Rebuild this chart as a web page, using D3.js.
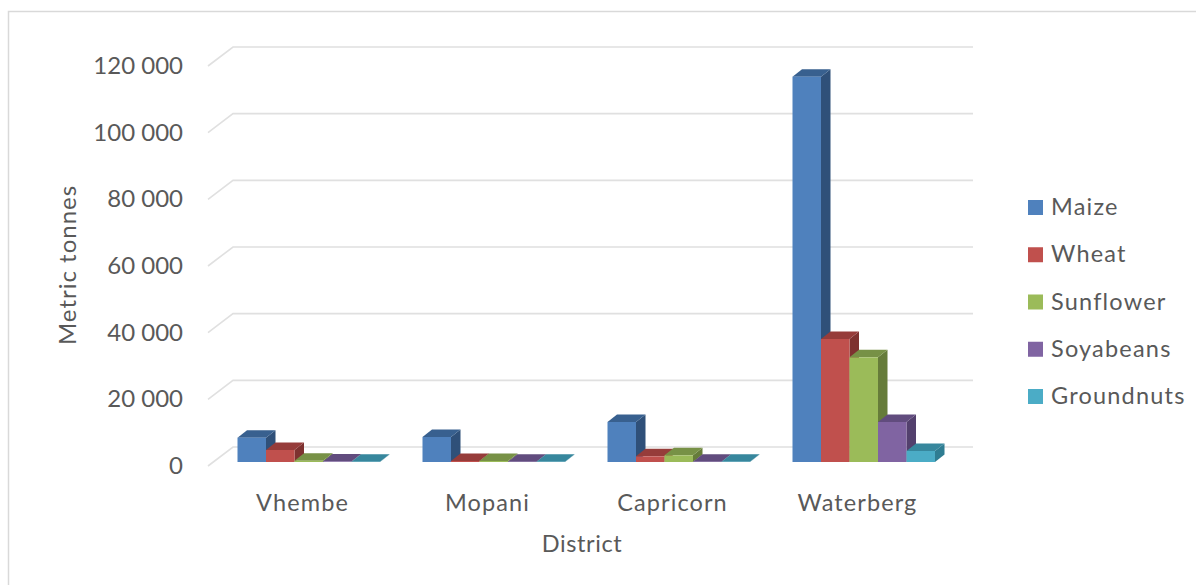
<!DOCTYPE html>
<html>
<head>
<meta charset="utf-8">
<script src="https://cdn.jsdelivr.net/npm/d3@7/dist/d3.min.js"></script>
<style>
  html, body { margin: 0; padding: 0; background: #fff; }
  svg { display: block; }
  text { font-family: Lato, "Open Sans", sans-serif; fill: #595959; }
</style>
</head>
<body>
<svg id="chart" width="1196" height="585"></svg>
<script>
// Crop production per district, in metric tonnes
const districts = ["Vhembe", "Mopani", "Capricorn", "Waterberg"];
const crops = ["Maize", "Wheat", "Sunflower", "Soyabeans", "Groundnuts"];
const maize = [7300, 7500, 12000, 115600];
const wheat = [3600, 300, 1700, 36900];
const sunflower = [400, 300, 2000, 31400];
const soyabeans = [150, 100, 100, 12000];
const groundnuts = [50, 50, 50, 3300];
const yTicks = [0, 20000, 40000, 60000, 80000, 100000, 120000];

const seriesValues = [maize, wheat, sunflower, soyabeans, groundnuts];
const faceColors = ["#4f81bd", "#c0504d", "#9bbb59", "#8064a2", "#4bacc6"];
const sideColors = ["#2f5079", "#7e3230", "#667c3a", "#53406d", "#2f7d92"];
const topColors = ["#38608f", "#963c3a", "#779146", "#614c7e", "#37879d"];

const svg = d3.select("#chart");
const fmt = d3.formatLocale({ decimal: ".", thousands: " ", grouping: [3], currency: ["", ""] }).format(",d");

// Oblique projection used for the 3D look
const depthX = 9.5, depthY = 7.5;
const wallX = 25, wallY = 19;

// y gives the bar-front height; tick labels and the wall sit on the same scale
const y = d3.scaleLinear().domain([0, 120000]).range([462, 62]);
const x = d3.scaleBand().domain(districts).range([191.5, 931.5]).paddingInner(0).paddingOuter(0);
const xSeries = d3.scaleBand().domain(crops).range([46, 188.5]);

// Chart frame: only the top and left edges fall inside the page
svg.append("path").attr("d", "M8.5,585V11.5H1196")
  .attr("fill", "none").attr("stroke", "#d9d9d9").attr("stroke-width", 1.5);

// Gridlines folding from the floor edge back along the wall
const gridY = v => y(v) + 4;
svg.append("g").selectAll("path").data(yTicks).join("path")
  .attr("d", v => `M208,${gridY(v)}L${208 + wallX},${gridY(v) - wallY}H973`)
  .attr("fill", "none").attr("stroke", "#e0e0e0").attr("stroke-width", 1.6);

// Value axis labels
const axis = d3.axisLeft(y).tickValues(yTicks).tickFormat(fmt).tickSize(0).tickPadding(0);
const axisG = svg.append("g").attr("transform", "translate(183,0)").call(axis);
axisG.select(".domain").remove();
axisG.selectAll("text").attr("font-size", 24).attr("font-family", null).attr("text-anchor", "end").attr("dy", "0.36em")
  .attr("transform", "translate(0,3)");

// Bars: drawn left to right so that each one overlaps the side of the previous
const barsG = svg.append("g");
districts.forEach((district, di) => {
  crops.forEach((crop, si) => {
    const v = seriesValues[si][di];
    const x0 = x(district) + xSeries(crop);
    const w = xSeries.bandwidth();
    const top = y(v), base = y(0);
    const g = barsG.append("g").attr("class", "bar");
    g.append("polygon").attr("fill", sideColors[si])
      .attr("points", [[x0 + w, top], [x0 + w + depthX, top - depthY], [x0 + w + depthX, base - depthY], [x0 + w, base]].join(" "));
    g.append("polygon").attr("fill", topColors[si])
      .attr("points", [[x0, top], [x0 + depthX, top - depthY], [x0 + w + depthX, top - depthY], [x0 + w, top]].join(" "));
    g.append("rect").attr("fill", faceColors[si])
      .attr("x", x0).attr("y", top).attr("width", w).attr("height", base - top);
  });
});

// Category labels
svg.append("g").selectAll("text").data(districts).join("text")
  .attr("x", d => x(d) + x.bandwidth() / 2 + 18.5)
  .attr("y", 511).attr("text-anchor", "middle").attr("font-size", 23.5).attr("letter-spacing", 1.1).text(d => d);

// Axis titles
svg.append("text").attr("x", 582).attr("y", 552).attr("text-anchor", "middle")
  .attr("font-size", 23.5).attr("letter-spacing", 0.6).text("District");
svg.append("text").attr("transform", "translate(76,265) rotate(-90)")
  .attr("text-anchor", "middle").attr("font-size", 24).attr("letter-spacing", 1).text("Metric tonnes");

// Legend
const legendY = d3.scalePoint().domain(crops).range([207, 396]);
const legend = svg.append("g").selectAll("g").data(crops).join("g")
  .attr("transform", d => `translate(1028,${legendY(d)})`);
legend.append("rect").attr("x", 0).attr("y", -7).attr("width", 15).attr("height", 15)
  .attr("fill", (d, i) => faceColors[i]);
legend.append("text").attr("x", 23).attr("y", 8).attr("font-size", 23.5).attr("letter-spacing", 1.2).text(d => d);
</script>
</body>
</html>
